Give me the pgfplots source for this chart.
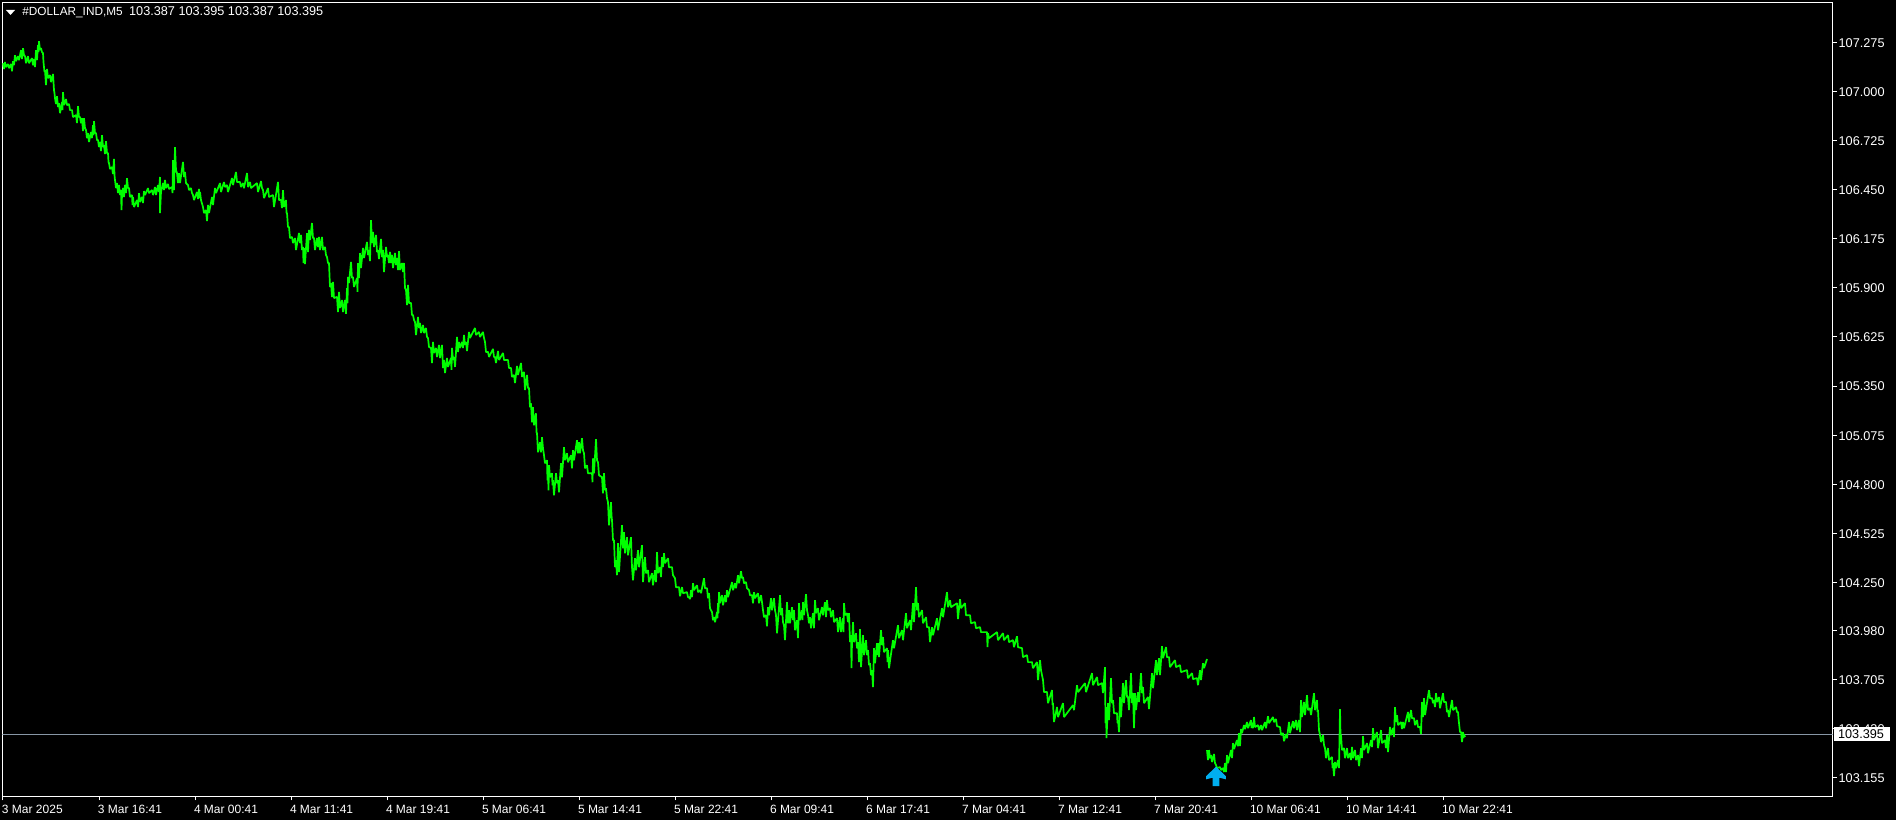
\documentclass[border=0pt]{standalone}
\usepackage{fontspec}
\setmainfont{Liberation Sans}
\usepackage{pgfplots}
\pgfplotsset{compat=1.18}
\definecolor{lime}{RGB}{0,255,0}
\definecolor{bidline}{RGB}{135,150,165}
\definecolor{arrowblue}{RGB}{0,174,239}
\pgfdeclareplotmark{buyarrow}{%
  \pgfpathmoveto{\pgfqpoint{0pt}{4.9pt}}%
  \pgfpathlineto{\pgfqpoint{4.9pt}{0.2pt}}%
  \pgfpathlineto{\pgfqpoint{4.9pt}{-1.4pt}}%
  \pgfpathlineto{\pgfqpoint{1.7pt}{-0.6pt}}%
  \pgfpathlineto{\pgfqpoint{1.7pt}{-4.75pt}}%
  \pgfpathlineto{\pgfqpoint{-1.7pt}{-4.75pt}}%
  \pgfpathlineto{\pgfqpoint{-1.7pt}{-0.6pt}}%
  \pgfpathlineto{\pgfqpoint{-4.9pt}{-1.4pt}}%
  \pgfpathlineto{\pgfqpoint{-4.9pt}{0.2pt}}%
  \pgfpathclose\pgfusepathqfill}
\newcommand{\mtfont}{\fontsize{6.35pt}{7pt}\selectfont}
\newcommand{\mtdatefont}{\fontsize{6.0pt}{7pt}\selectfont}
\newcommand{\mtnamefont}{\fontsize{5.9pt}{7pt}\selectfont}
\begin{document}
\begin{tikzpicture}
\fill[black] (0,0) rectangle (948pt,410pt);
\begin{axis}[
  at={(1.25pt,11.75pt)}, anchor=south west,
  width=915pt, height=397pt, scale only axis,
  xmin=2.5, xmax=1832.5, ymin=103.050, ymax=107.499,
  axis line style={white,line width=0.5pt},
  tick style={white,line width=0.5pt},
  tick align=outside, major tick length=2pt,
  ytick pos=right, xtick pos=bottom,
  yticklabel pos=right,
  ytick={107.275,107.000,106.725,106.450,106.175,105.900,105.625,105.350,105.075,104.800,104.525,104.250,103.980,103.705,103.430,103.155},
  /pgf/number format/assume math mode=true,
  /pgf/number format/fixed, /pgf/number format/fixed zerofill, /pgf/number format/precision=3,
  scaled y ticks=false,
  yticklabel style={font=\mtfont, text=white, anchor=west, xshift=-2.45pt, yshift=-0.3pt},
  xtick={3,99,195,291,387,483,579,675,771,867,963,1059,1155,1251,1347,1443},
  xticklabels={3 Mar 2025,3 Mar 16:41,4 Mar 00:41,4 Mar 11:41,4 Mar 19:41,5 Mar 06:41,5 Mar 14:41,5 Mar 22:41,6 Mar 09:41,6 Mar 17:41,7 Mar 04:41,7 Mar 12:41,7 Mar 20:41,10 Mar 06:41,10 Mar 14:41,10 Mar 22:41},
  xticklabel style={font=\mtdatefont, text=white, anchor=north west, inner xsep=0pt, xshift=-0.7pt, yshift=1pt},
]
\addplot[bidline, line width=0.55pt, forget plot] coordinates {(2.5,103.395) (1832.5,103.395)};
\addplot[lime, line width=0.85pt, line join=bevel, forget plot] coordinates {
(3,107.159)(4,107.126)(5,107.165)(6,107.137)(8,107.154)(9,107.131)(11,107.154)(12,107.114)(13,107.170)(14,107.148)
(15,107.204)(16,107.170)(18,107.198)(19,107.176)(21,107.232)(22,107.182)(23,107.243)(24,107.204)(25,107.198)(26,107.159)
(28,107.198)(29,107.159)(32,107.187)(33,107.148)(34,107.182)(35,107.137)(36,107.232)(37,107.176)(38,107.260)(38.5,107.221)
(39,107.282)(40,107.232)(41,107.243)(42,107.221)(43,107.215)(43.5,107.165)(44,107.137)(44.5,107.109)(45,107.120)(46,107.036)
(47,107.126)(48,107.075)(50,107.092)(51,107.053)(53,107.098)(53.5,107.053)(54,107.008)(54.5,106.991)(55,106.963)(56,106.930)
(57,106.974)(58,106.913)(59,106.935)(60,106.879)(62,106.941)(62.5,106.896)(63,106.997)(64,106.924)(66,106.958)(67,106.924)
(69,106.930)(70,106.896)(72,106.896)(73,106.857)(76,106.868)(77,106.823)(78,106.918)(79,106.857)(80,106.857)(81,106.823)
(82,106.851)(83,106.778)(84,106.851)(85,106.795)(86,106.784)(87,106.739)(88,106.767)(89,106.717)(91,106.773)(92,106.739)
(93,106.812)(93.5,106.756)(94,106.834)(95,106.767)(96,106.767)(97,106.728)(98,106.728)(99,106.689)(100,106.717)(101,106.666)
(102,106.756)(103,106.689)(104,106.700)(105,106.650)(106,106.722)(107,106.655)(108,106.655)(108.5,106.605)(109,106.599)(110,106.566)
(112,106.577)(113,106.538)(114,106.622)(114.5,106.532)(115,106.504)(116,106.459)(117,106.487)(118,106.431)(119,106.476)(120,106.420)
(121,106.448)(121.5,106.336)(122,106.420)(123,106.459)(124,106.409)(125,106.476)(126,106.431)(127,106.515)(128,106.459)(129,106.459)(130,106.409)
(132,106.420)(132.5,106.364)(133,106.409)(134,106.353)(137,106.392)(138,106.353)(139,106.431)(140,106.381)(142,106.409)(143,106.375)
(144,106.442)(145,106.420)(148,106.459)(149,106.431)(152,106.448)(153,106.420)(155,106.465)(156,106.420)(158,106.476)(159,106.437)
(160,106.521)(160,106.319)(161,106.437)(163,106.487)(164,106.448)(165,106.504)(166,106.459)(168,106.482)(169,106.454)(172,106.465)(172.5,106.431)
(173,106.616)(174,106.448)(175,106.689)(176,106.560)(177,106.543)(178,106.487)(179,106.543)(180,106.487)(183,106.605)(184,106.521)
(185,106.549)(186,106.487)(188,106.476)(189,106.448)(191,106.459)(192,106.431)(193,106.420)(194,106.392)(197,106.437)(198,106.398)
(199,106.454)(199.5,106.403)(200,106.437)(201,106.392)(203,106.353)(204,106.319)(206,106.336)(207,106.274)(208,106.364)(209,106.319)
(212,106.409)(213,106.364)(215,106.459)(216,106.431)(220,106.487)(221,106.437)(224,106.493)(225,106.465)(227,106.476)(228,106.437)
(232,106.515)(233,106.476)(236,106.549)(237,106.493)(240,106.493)(241,106.465)(243,106.487)(244,106.459)(247,106.543)(248,106.465)
(250,106.493)(251,106.459)(257,106.487)(258,106.437)(261,106.498)(262,106.459)(263,106.448)(264,106.403)(268,106.459)(269,106.409)
(273,106.420)(274,106.353)(278,106.493)(279,106.392)(281,106.392)(282,106.347)(283,106.448)(284,106.353)(286,106.392)(286.5,106.319)
(287,106.319)(288,106.241)(289,106.241)(290,106.179)(292,106.185)(293,106.151)(295,106.179)(296,106.112)(299,106.207)(300,106.151)
(301,106.196)(302,106.112)(303,106.129)(303.5,106.039)(304,106.123)(305,106.034)(307,106.207)(308,106.101)(309,106.224)(310,106.168)
(312,106.263)(313,106.179)(314,106.179)(315,106.112)(317,106.179)(318,106.129)(319,106.185)(320,106.112)(322,106.185)(323,106.112)
(325,106.129)(326,106.084)(327,106.073)(328,106.039)(329,106.039)(330,105.905)(331,105.927)(332,105.849)(333,105.933)(334,105.843)
(337,105.849)(338,105.765)(339,105.877)(340,105.787)(342,105.832)(343,105.765)(345,105.832)(346,105.754)(347,105.899)(347.5,105.815)
(348,105.961)(349,105.927)(351,106.045)(352,105.955)(353,105.961)(354,105.905)(357,105.955)(357.5,105.877)(358,106.039)(359,105.955)
(360,106.095)(361,106.011)(363,106.123)(364,106.067)(367,106.157)(368,106.084)(369,106.112)(370,106.050)(371,106.280)(372,106.151)
(373,106.213)(374,106.129)(376,106.196)(377,106.101)(378,106.112)(379,106.062)(381,106.174)(382,106.073)(383,106.112)(384,105.989)
(386,106.129)(387,106.073)(388,106.084)(389,106.039)(390,106.101)(391,106.039)(392,106.084)(393,106.011)(395,106.095)(396,106.028)
(397,106.067)(398,106.000)(399,106.106)(400,106.000)(402,106.039)(403,105.989)(404,106.039)(405,105.899)(406,105.888)(407,105.804)
(408,105.916)(409,105.815)(411,105.815)(412,105.748)(413,105.748)(414,105.720)(415,105.709)(416,105.636)(418,105.737)(419,105.675)
(420,105.703)(421,105.647)(423,105.692)(424,105.647)(426,105.675)(427,105.625)(428,105.619)(429,105.569)(431,105.563)(432,105.479)
(433,105.597)(434,105.535)(436,105.563)(437,105.513)(439,105.580)(440,105.507)(442,105.580)(443,105.451)(444,105.496)(445,105.423)
(447,105.507)(448,105.457)(451,105.507)(451.5,105.440)(452,105.563)(453,105.496)(454,105.513)(455,105.457)(457,105.625)(458,105.541)
(459,105.597)(460,105.563)(462,105.597)(463,105.563)(464,105.636)(465,105.580)(466,105.597)(467,105.546)(469,105.653)(470,105.619)
(475,105.675)(476,105.636)(479,105.653)(480,105.625)(483,105.653)(484,105.619)(485,105.597)(486,105.541)(488,105.541)(489,105.513)
(493,105.558)(494,105.513)(495,105.513)(496,105.479)(498,105.546)(499,105.496)(503,105.535)(504,105.496)(508,105.496)(509,105.451)
(511,105.451)(512,105.401)(514,105.412)(515,105.367)(517,105.462)(518,105.412)(521,105.479)(522,105.401)(524,105.429)(525,105.328)
(527,105.412)(528,105.339)(529,105.339)(530,105.231)(531,105.253)(532,105.147)(533,105.231)(534,105.130)(536,105.197)(536.5,105.091)
(537,105.085)(538,104.979)(540,105.035)(541,104.979)(542,105.063)(543,105.001)(544,104.962)(545,104.917)(547,104.934)(547.5,104.822)
(548,104.878)(548.5,104.766)(549,104.906)(550,104.839)(552,104.861)(552.5,104.794)(553,104.822)(554,104.738)(556,104.861)(557,104.805)
(558,104.822)(559,104.755)(561,104.917)(562,104.839)(564,105.007)(565,104.934)(567,104.973)(568,104.923)(571,104.962)(572,104.889)
(573,104.990)(574,104.934)(577,105.046)(578,104.973)(579,105.035)(580,104.973)(582,105.057)(583,104.990)(584,104.973)(585,104.889)
(587,104.906)(588,104.861)(592,104.861)(592.5,104.811)(593,104.945)(594,104.861)(596,105.052)(597,104.934)(598,104.923)(599,104.850)
(602,104.839)(603,104.749)(604,104.861)(605,104.766)(606,104.777)(607,104.721)(608,104.699)(609,104.570)(611,104.699)(611.5,104.626)
(612,104.598)(613,104.486)(614,104.486)(615,104.335)(616,104.374)(617,104.290)(618,104.469)(619,104.307)(622,104.570)(623,104.441)
(624,104.531)(625,104.413)(627,104.503)(628,104.402)(631,104.503)(631.5,104.413)(632,104.335)(633,104.262)(635,104.385)(636,104.318)
(638,104.430)(639,104.335)(642,104.458)(643,104.251)(645,104.391)(646,104.301)(648,104.318)(649,104.251)(652,104.301)(653,104.234)
(655,104.318)(656,104.251)(657,104.419)(658,104.301)(660,104.335)(661,104.279)(662,104.391)(663,104.335)(664,104.413)(665,104.357)
(668,104.385)(669,104.335)(672,104.335)(673,104.290)(675,104.273)(676,104.223)(679,104.223)(680,104.172)(682,104.223)(683,104.189)
(687,104.195)(688,104.167)(689,104.167)(690,104.156)(691,104.206)(692,104.167)(693,104.245)(694,104.206)(697,104.234)(698,104.195)
(700,104.206)(701,104.189)(704,104.273)(705,104.217)(707,104.217)(708,104.161)(709,104.189)(710,104.105)(712,104.083)(713,104.038)
(714,104.055)(715,104.027)(717,104.083)(717.5,104.049)(718,104.133)(718.5,104.077)(719,104.195)(720,104.133)(722,104.178)(723,104.122)
(725,104.178)(726,104.139)(727,104.206)(728,104.167)(732,104.251)(733,104.206)(735,104.245)(736,104.217)(738,104.290)(739,104.245)
(741,104.312)(742,104.273)(743,104.279)(744,104.245)(746,104.251)(747,104.217)(749,104.206)(750,104.178)(752,104.178)(753,104.133)
(754,104.195)(755,104.161)(758,104.189)(759,104.133)(761,104.178)(762,104.139)(763,104.094)(764,104.055)(766,104.066)(767,104.004)
(768,104.111)(769,104.066)(771,104.161)(772,104.094)(774,104.161)(775,104.094)(776,104.066)(777,103.965)(780,104.178)(781,104.066)
(782,104.105)(783,104.027)(784,104.010)(785,103.926)(787,104.139)(788,104.021)(789,104.094)(790,104.021)(792,104.111)(793,104.038)
(794,104.094)(795,103.982)(797,104.038)(798,103.937)(799,104.133)(800,104.038)(802,104.094)(802.5,104.038)(803,104.139)(804,104.066)
(806,104.184)(807,104.094)(808,104.066)(809,104.021)(810,104.055)(811,103.993)(813,104.077)(814,103.993)(815,104.150)(816,104.077)
(818,104.105)(819,104.038)(822,104.111)(823,104.066)(825,104.139)(826,104.055)(827,104.150)(828,104.094)(830,104.105)(831,104.055)
(833,104.094)(834,104.027)(837,104.049)(838,103.971)(840,104.055)(841,103.971)(843,104.049)(843.5,103.971)(844,104.133)(845,104.066)
(847,104.077)(848,104.027)(849,104.077)(850,103.915)(851,103.954)(851.5,103.769)(852,103.915)(853,104.027)(854,103.915)(856,103.965)(857,103.881)
(858,103.915)(859,103.803)(860,103.988)(861,103.775)(863,103.954)(864,103.842)(866,103.926)(867,103.842)(868,103.870)(869,103.786)
(870,103.797)(871,103.730)(872,103.758)(873,103.663)(874,103.881)(875,103.797)(877,103.909)(877.5,103.842)(878,103.909)(879,103.831)
(881,103.982)(882,103.898)(883,103.943)(884,103.859)(887,103.881)(887.5,103.803)(888,103.870)(889,103.769)(893,103.926)(894,103.881)
(898,104.010)(899,103.937)(902,103.982)(903,103.926)(906,104.077)(907,103.993)(910,104.038)(911,103.982)(913,104.133)(914,104.027)
(916,104.223)(917,104.094)(918,104.133)(919,104.055)(922,104.094)(923,104.021)(926,104.055)(927,103.999)(929,103.999)(930,103.915)
(932,103.999)(933,103.954)(937,104.049)(938,103.982)(942,104.105)(943,104.055)(947,104.195)(948,104.111)(950,104.150)(951,104.111)
(957,104.133)(958,104.044)(960,104.156)(961,104.105)(965,104.133)(966,104.066)(970,104.066)(971,104.021)(975,104.027)(976,103.993)
(980,103.999)(981,103.971)(987,103.971)(987.5,103.887)(988,103.965)(989,103.937)(997,103.971)(998,103.926)(1003,103.965)(1004,103.926)
(1008,103.954)(1009,103.915)(1013,103.926)(1014,103.887)(1017,103.948)(1018,103.887)(1022,103.881)(1023,103.831)(1027,103.842)(1028,103.803)
(1032,103.803)(1033,103.769)(1037,103.803)(1038,103.702)(1040,103.814)(1041,103.758)(1043,103.702)(1044,103.635)(1047,103.635)(1048,103.573)
(1052,103.646)(1052.5,103.562)(1053,103.573)(1054,103.467)(1057,103.551)(1058,103.495)(1063,103.573)(1064,103.495)(1073,103.562)(1074,103.534)
(1077,103.674)(1078,103.635)(1085,103.685)(1086,103.635)(1092,103.741)(1093,103.674)(1097,103.719)(1098,103.674)(1102,103.685)(1103,103.629)
(1105,103.775)(1105.5,103.461)(1106,103.551)(1106.5,103.377)(1108,103.573)(1109,103.478)(1111,103.713)(1112,103.573)(1113,103.590)(1114,103.517)
(1117,103.517)(1117.5,103.461)(1118,103.478)(1119,103.411)(1120,103.607)(1121,103.495)(1123,103.685)(1124,103.573)(1126,103.702)(1127,103.607)
(1128,103.607)(1129,103.534)(1131,103.741)(1132,103.573)(1133,103.629)(1134,103.433)(1135,103.629)(1136,103.534)(1138,103.635)(1139,103.579)
(1141,103.741)(1142,103.629)(1143,103.663)(1144,103.573)(1148,103.607)(1149,103.540)(1152,103.741)(1153,103.657)(1156,103.814)(1157,103.730)
(1159,103.825)(1160,103.730)(1162,103.892)(1163,103.825)(1166,103.887)(1167,103.831)(1169,103.831)(1170,103.775)(1175,103.814)(1176,103.775)
(1180,103.786)(1181,103.747)(1187,103.758)(1188,103.713)(1192,103.741)(1193,103.708)(1197,103.713)(1198,103.674)(1200,103.758)(1201,103.702)
(1203,103.797)(1204,103.769)(1207,103.820)
};
\addplot[lime, line width=0.85pt, line join=bevel, forget plot] coordinates {
(1207,103.310)(1208,103.254)(1209,103.310)(1210,103.265)(1211,103.282)(1212,103.243)(1214,103.288)(1215,103.237)(1216,103.226)(1217,103.209)
(1220,103.215)(1221,103.198)(1223,103.209)(1224,103.187)(1225,103.237)(1226,103.187)(1227,103.282)(1228,103.237)(1231,103.310)(1232,103.265)
(1233,103.349)(1234,103.316)(1237,103.366)(1238,103.332)(1239,103.405)(1240,103.332)(1241,103.428)(1242,103.405)(1244,103.450)(1245,103.428)
(1247,103.467)(1248,103.433)(1251,103.478)(1251.5,103.433)(1252,103.461)(1253,103.433)(1254,103.495)(1255,103.439)(1258,103.450)(1259,103.422)
(1261,103.450)(1262,103.422)(1265,103.467)(1266,103.433)(1268,103.500)(1269,103.461)(1273,103.495)(1274,103.467)(1276,103.484)(1277,103.444)
(1280,103.439)(1281,103.394)(1283,103.405)(1284,103.360)(1286,103.400)(1287,103.377)(1289,103.467)(1290,103.405)(1293,103.472)(1294,103.433)
(1296,103.478)(1297,103.422)(1299,103.478)(1300,103.411)(1301,103.590)(1302,103.495)(1304,103.579)(1305,103.506)(1307,103.618)(1308,103.534)
(1310,103.545)(1311,103.506)(1314,103.629)(1315,103.534)(1317,103.590)(1317.5,103.523)(1318,103.534)(1319,103.422)(1320,103.394)(1321,103.355)
(1323,103.394)(1324,103.338)(1325,103.321)(1326,103.265)(1328,103.321)(1329,103.254)(1332,103.271)(1332.5,103.209)(1333,103.237)(1334,103.164)
(1335,103.243)(1336,103.209)(1338,103.254)(1339,103.209)(1340,103.540)(1340.5,103.394)(1341,103.394)(1342,103.310)(1344,103.321)(1345,103.265)
(1347,103.321)(1348,103.265)(1350,103.293)(1351,103.254)(1352,103.327)(1353,103.265)(1355,103.310)(1356,103.254)(1358,103.282)(1359,103.220)
(1361,103.321)(1362,103.265)(1363,103.388)(1364,103.310)(1367,103.349)(1368,103.293)(1371,103.366)(1372,103.327)(1373,103.433)(1374,103.366)
(1377,103.411)(1378,103.321)(1381,103.422)(1382,103.349)(1385,103.366)(1386,103.321)(1387,103.394)(1388,103.299)(1390,103.439)(1391,103.394)
(1393,103.433)(1394,103.383)(1395,103.551)(1396,103.467)(1397,103.506)(1398,103.450)(1401,103.467)(1402,103.428)(1403,103.467)(1404,103.433)
(1408,103.523)(1409,103.467)(1411,103.534)(1412,103.489)(1414,103.489)(1415,103.450)(1417,103.478)(1418,103.439)(1420,103.439)(1421,103.400)
(1422,103.579)(1423,103.495)(1424,103.601)(1425,103.506)(1429,103.646)(1430,103.601)(1432,103.601)(1433,103.573)(1434,103.590)(1435,103.551)
(1436,103.629)(1437,103.579)(1439,103.607)(1440,103.545)(1443,103.629)(1444,103.579)(1446,103.579)(1447,103.523)(1448,103.534)(1449,103.495)
(1452,103.590)(1453,103.534)(1456,103.551)(1457,103.523)(1458,103.523)(1458.5,103.489)(1459,103.461)(1460,103.411)(1461,103.411)(1462,103.355)
(1463,103.411)(1463.5,103.377)(1464,103.400)(1465,103.383)
};
\addplot[only marks, mark=buyarrow, mark options={arrowblue}, forget plot] coordinates {(1216,103.162)};
\end{axis}
% bid price label (page is 1 px = 0.5 pt)
\fill[white] (917pt,410pt-363.5pt) rectangle (945pt,410pt-370.5pt);
\node[anchor=center, text=black, font=\mtfont, inner sep=0pt] at (930.5pt,410pt-367.3pt) {103.395};
% chart header
\fill[white] (3pt,410pt-5pt) -- (7.5pt,410pt-5pt) -- (5.25pt,410pt-7.5pt) -- cycle;
\node[anchor=west, text=white, inner sep=0pt] at (11pt,410pt-6.3pt) {\mtnamefont\#DOLLAR\_IND,M5\hspace{3.2pt}\mtfont 103.387 103.395 103.387 103.395};
\end{tikzpicture}
\end{document}
